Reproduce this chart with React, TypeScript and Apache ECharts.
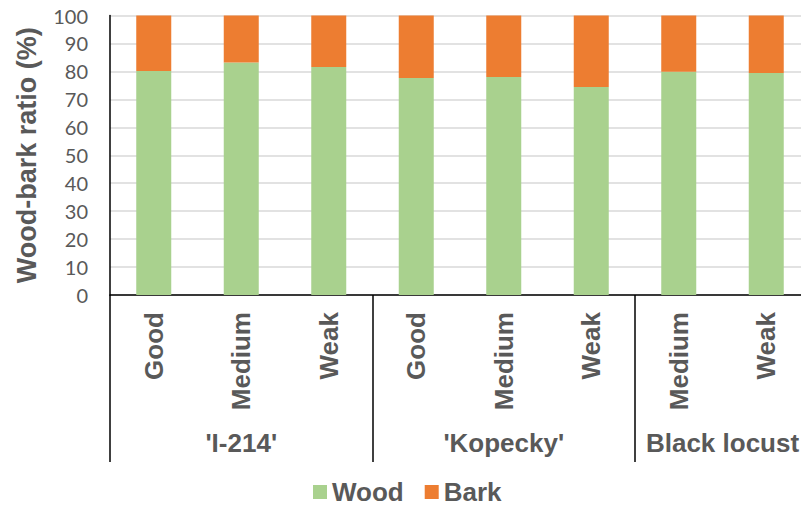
import React, { useEffect, useRef } from "react";
import * as echarts from "echarts";

const categories = ["Good", "Medium", "Weak", "Good", "Medium", "Weak", "Medium", "Weak"];
const woodValues = [80.1, 83.2, 81.6, 77.6, 78.0, 74.4, 79.9, 79.4];
const barkValues = [19.9, 16.8, 18.4, 22.4, 22.0, 25.6, 20.1, 20.6];
const groupNames = ["'I-214'", "'Kopecky'", "Black locust"];
const groupSizes = [3, 3, 2];
const yTicks = [0, 10, 20, 30, 40, 50, 60, 70, 80, 90, 100];

const GRAY = "#595959";
const BOLD_FONT = "'Liberation Sans', Arial, sans-serif";

export default function App() {
  const ref = useRef<HTMLDivElement>(null);

  useEffect(() => {
    if (!ref.current) return;
    const chart = echarts.init(ref.current, undefined, { renderer: "svg" });

    const boundaries: number[] = [0];
    const centers: number[] = [];
    let acc = 0;
    groupSizes.forEach((s) => {
      centers.push(acc + s / 2);
      acc += s;
      boundaries.push(acc);
    });

    chart.setOption({
      animation: false,
      backgroundColor: "#ffffff",
      grid: {
        left: 110,
        top: 15.5,
        width: 700,
        height: 279.5,
        containLabel: false,
        outerBoundsMode: "none",
      },
      legend: {
        data: ["Wood", "Bark"],
        left: 313,
        top: 479,
        padding: 0,
        icon: "rect",
        itemWidth: 14,
        itemHeight: 14,
        itemGap: 21,
        textStyle: {
          fontSize: 26,
          fontWeight: "bold",
          color: GRAY,
          fontFamily: BOLD_FONT,
        },
      },
      xAxis: [
        {
          type: "category",
          data: categories,
          position: "bottom",
          axisLine: { show: true, lineStyle: { color: "#000", width: 1.5 } },
          axisTick: { show: false },
          splitLine: { show: false },
          axisLabel: {
            rotate: 90,
            margin: 17,
            interval: 0,
            fontSize: 26,
            fontWeight: "bold",
            color: GRAY,
            fontFamily: BOLD_FONT,
          },
        },
        {
          type: "value",
          min: 0,
          max: acc,
          position: "bottom",
          axisLine: { show: false },
          splitLine: { show: false },
          axisTick: {
            show: true,
            customValues: boundaries,
            length: 167,
            lineStyle: { color: "#000", width: 1.5 },
          },
          axisLabel: {
            show: true,
            customValues: centers,
            margin: 135,
            fontSize: 26,
            fontWeight: "bold",
            color: GRAY,
            fontFamily: BOLD_FONT,
            formatter: (v: number) => {
              const i = centers.findIndex((c) => Math.abs(c - v) < 1e-6);
              return i >= 0 ? groupNames[i] : "";
            },
          },
        },
      ],
      yAxis: {
        type: "value",
        min: yTicks[0],
        max: yTicks[yTicks.length - 1],
        interval: 10,
        name: "Wood-bark ratio (%)",
        nameLocation: "middle",
        nameGap: 70,
        nameTextStyle: { fontSize: 27, fontWeight: "bold", color: GRAY, fontFamily: BOLD_FONT },
        axisLine: { show: true, lineStyle: { color: "#000", width: 1.5 } },
        axisTick: { show: false },
        splitLine: { show: true, lineStyle: { color: "#d9d9d9", width: 1.5 } },
        axisLabel: { fontSize: 20, color: GRAY, margin: 22, fontFamily: "Lato, 'Open Sans', sans-serif" },
      },
      series: [
        {
          name: "Wood",
          type: "bar",
          stack: "total",
          xAxisIndex: 0,
          barWidth: "40%",
          itemStyle: { color: "#a9d18e" },
          data: woodValues,
        },
        {
          name: "Bark",
          type: "bar",
          stack: "total",
          xAxisIndex: 0,
          barWidth: "40%",
          itemStyle: { color: "#ed7d31" },
          data: barkValues,
        },
      ],
    });

    return () => chart.dispose();
  }, []);

  return (
    <div
      ref={ref}
      style={{ position: "fixed", left: 0, top: 0, width: 801, height: 508, background: "#fff" }}
    />
  );
}
